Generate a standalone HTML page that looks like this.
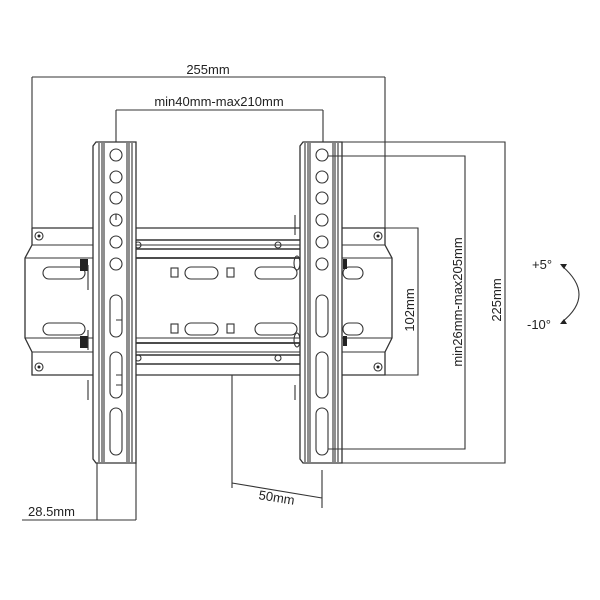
<!DOCTYPE html>
<html><head><meta charset="utf-8"><style>
html,body{margin:0;padding:0;background:#fff;}
svg{display:block;}
text{font-family:"Liberation Sans",sans-serif;font-size:13px;fill:#222;}
</style></head><body>
<svg width="600" height="600" viewBox="0 0 600 600" xmlns="http://www.w3.org/2000/svg">
<g fill="none" stroke="#333" stroke-width="1.1">
<!-- top dims -->
<path d="M32 77H385M32 77V228M385 77V230"/>
<path d="M116 110H323M116 110V152M323 110V152"/>
<!-- back plate -->
<path d="M32 228H385M32 228V245L25 258V338L32 352V375H385V352L392 338V258L385 245V228" stroke-width="1.3"/>
<path d="M32 245H385M25 258H392M25 338H392M32 352H385" />
<path d="M136 240H300M136 249H300M136 355H300M136 364H300" stroke-width="1.6"/>
<path d="M136 258H300M136 343H300" stroke-width="1.8"/>
<!-- plate slots -->
<g>
<rect x="43" y="267" width="42" height="12" rx="6"/>
<rect x="43" y="323" width="42" height="12" rx="6"/>
<rect x="185" y="267" width="33" height="12" rx="6"/>
<rect x="185" y="323" width="33" height="12" rx="6"/>
<rect x="255" y="267" width="42" height="12" rx="6"/>
<rect x="255" y="323" width="42" height="12" rx="6"/>
<rect x="343" y="267" width="20" height="12" rx="6"/>
<rect x="343" y="323" width="20" height="12" rx="6"/>
<rect x="171" y="268" width="7" height="9"/>
<rect x="227" y="268" width="7" height="9"/>
<rect x="171" y="324" width="7" height="9"/>
<rect x="227" y="324" width="7" height="9"/>
</g>
<!-- screws -->
<g>
<circle cx="39" cy="236" r="4"/><circle cx="39" cy="367" r="4"/>
<circle cx="378" cy="236" r="4"/><circle cx="378" cy="367" r="4"/>
<circle cx="138" cy="245" r="3"/><circle cx="138" cy="358" r="3"/>
<circle cx="278" cy="245" r="3"/><circle cx="278" cy="358" r="3"/>
</g>
<g fill="#222" stroke="none">
<circle cx="39" cy="236" r="1.5"/><circle cx="39" cy="367" r="1.5"/>
<circle cx="378" cy="236" r="1.5"/><circle cx="378" cy="367" r="1.5"/>
<rect x="80" y="259" width="8" height="12"/><rect x="80" y="336" width="8" height="12"/>
<rect x="343" y="259" width="4" height="10"/><rect x="343" y="336" width="4" height="10"/>
</g>
<!-- left bar -->
<g>
<path d="M96 142H136V463H96L93 459V146Z" fill="#fff" stroke-width="1.3"/>
<path d="M99 143V462M102 143V462M104 143V462M127 143V462M129 143V462M132 143V462"/>
<path d="M88 265V290M88 330V350M88 380V400"/>
<circle cx="116" cy="155" r="6"/><circle cx="116" cy="177" r="6"/><circle cx="116" cy="198" r="6"/>
<circle cx="116" cy="220" r="6"/><circle cx="116" cy="242" r="6"/><circle cx="116" cy="264" r="6"/>
<rect x="110" y="295" width="12" height="42" rx="6"/>
<rect x="110" y="352" width="12" height="46" rx="6"/>
<rect x="110" y="408" width="12" height="47" rx="6"/>
<path d="M116 220V214M116 320H122M116 375H122M116 385H122"/>
</g>
<!-- right bar -->
<g>
<path d="M303 142H342V463H303L300 459V146Z" fill="#fff" stroke-width="1.3"/>
<path d="M305 143V462M308 143V462M310 143V462M333 143V462M335 143V462M338 143V462"/>
<path d="M295 215V235M295 385V400"/>
<circle cx="322" cy="155" r="6"/><circle cx="322" cy="177" r="6"/><circle cx="322" cy="198" r="6"/>
<circle cx="322" cy="220" r="6"/><circle cx="322" cy="242" r="6"/><circle cx="322" cy="264" r="6"/>
<rect x="316" y="295" width="12" height="42" rx="6"/>
<rect x="316" y="352" width="12" height="46" rx="6"/>
<rect x="316" y="408" width="12" height="47" rx="6"/>
<ellipse cx="297" cy="263" rx="3" ry="7"/><ellipse cx="297" cy="340" rx="3" ry="7"/>
</g>
<!-- right dims -->
<path d="M385 228H418V375H385M418 228V375"/>
<path d="M328 156H465V449H328M465 156V449"/>
<path d="M342 142H505V463H342M505 142V463"/>
<!-- bottom dims -->
<path d="M97 463V520M136 463V520M22 520H136"/>
<path d="M232 375V488M322 470V508M232 483L322 498"/>
<!-- tilt arc -->
<path d="M562 266Q596 295 562 322"/>
</g>
<g fill="#222">
<path d="M560 264l7 0-3 5z"/><path d="M560 324l7 0-3-5z"/>
</g>
<text x="208" y="74" text-anchor="middle">255mm</text>
<text x="219" y="106" text-anchor="middle">min40mm-max210mm</text>
<text transform="translate(414,310) rotate(-90)" text-anchor="middle">102mm</text>
<text transform="translate(462,302) rotate(-90)" text-anchor="middle">min26mm-max205mm</text>
<text transform="translate(501,300) rotate(-90)" text-anchor="middle">225mm</text>
<text x="532" y="269">+5°</text>
<text x="527" y="329">-10°</text>
<text x="28" y="516">28.5mm</text>
<text transform="translate(276,502) rotate(9)" text-anchor="middle">50mm</text>
</svg>
</body></html>
